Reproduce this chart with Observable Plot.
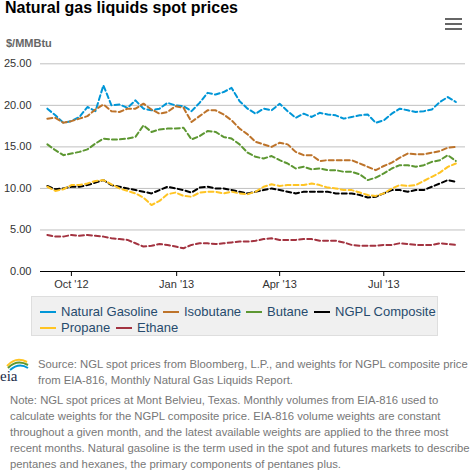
<!DOCTYPE html>
<html>
<head>
<meta charset="utf-8">
<script src="https://cdn.jsdelivr.net/npm/d3@7"></script>
<script src="https://cdn.jsdelivr.net/npm/@observablehq/plot@0.6"></script>
<style>
  html, body { margin: 0; padding: 0; background: #fff; }
  body { width: 472px; height: 471px; position: relative; overflow: hidden; font-family: "Liberation Sans", Arial, sans-serif; }
  #title { position: absolute; left: 5px; top: -1px; font-size: 16px; font-weight: bold; color: #000; white-space: nowrap; }
  #menu { position: absolute; left: 445px; top: 18px; width: 17px; }
  #menu div { height: 2px; background: #666; margin-bottom: 3px; }
  #unit { position: absolute; left: 6px; top: 37px; font-size: 11px; font-weight: bold; color: #666; }
  #chart { position: absolute; left: 0; top: 50px; }
  #legend { position: absolute; left: 31px; top: 296px; width: 405px; height: 38px; background: #f0f0f0; border: 1px solid #dedede; }
  .li { position: absolute; font-size: 13px; color: #274b6d; white-space: nowrap; line-height: 15px; }
  .li span.sw { display: inline-block; width: 16px; height: 2px; vertical-align: middle; margin-right: 5px; position: relative; top: -1px; }
  #source { position: absolute; left: 38px; top: 356px; font-size: 11.3px; color: #777; line-height: 16px; white-space: nowrap; }
  #note { position: absolute; left: 10px; top: 392px; font-size: 11.3px; color: #777; line-height: 16px; white-space: nowrap; }
  #logo { position: absolute; left: 0; top: 355px; }
</style>
</head>
<body>
<div id="title">Natural gas liquids spot prices</div>
<div id="menu"><div></div><div></div><div></div></div>
<div id="unit">$/MMBtu</div>
<div id="chart"></div>
<div id="legend"></div>
<svg id="logo" width="32" height="30" viewBox="0 0 32 30">
  <path d="M7 11 Q16 1 27 7" fill="none" stroke="#ffc423" stroke-width="2"/>
  <path d="M8 13 Q17 4 28 10" fill="none" stroke="#5d9732" stroke-width="2"/>
  <path d="M10 15 Q19 7 28 13" fill="none" stroke="#0096d7" stroke-width="2"/>
  <text x="0" y="26" font-family="Liberation Serif, serif" font-size="15" fill="#1a2a4a">eia</text>
</svg>
<div id="source">Source: NGL spot prices from Bloomberg, L.P., and weights for NGPL composite price<br>from EIA-816, Monthly Natural Gas Liquids Report.</div>
<div id="note">Note: NGL spot prices at Mont Belvieu, Texas. Monthly volumes from EIA-816 used to<br>calculate weights for the NGPL composite price. EIA-816 volume weights are constant<br>throughout a given month, and the latest available weights are applied to the three most<br>recent months. Natural gasoline is the term used in the spot and futures markets to describe<br>pentanes and hexanes, the primary components of pentanes plus.</div>
<script>
// Weekly readings (week starting Monday), from 2012-09-10
const firstWeek = "2012-09-10";
const seriesNames = ["Natural Gasoline", "Isobutane", "Butane", "NGPL Composite", "Propane", "Ethane"];
const seriesColors = ["#0096d7", "#bd732a", "#5d9732", "#000000", "#ffc423", "#a33340"];

const naturalGasoline = [19.6,18.8,17.9,18.1,18.6,19.8,19.3,22.4,20.0,20.1,19.7,20.6,19.6,19.4,19.6,20.3,20.0,19.9,19.3,20.3,21.5,21.3,21.6,22.1,20.5,19.6,19.0,19.6,19.4,20.2,19.3,18.5,19.0,18.6,19.1,18.9,18.8,18.4,18.6,18.8,18.9,17.9,18.2,19.0,19.6,19.4,19.2,19.3,19.5,20.4,21.0,20.4];
const isobutane = [18.4,18.5,17.9,18.1,18.4,18.7,19.5,20.1,19.3,19.2,19.6,19.6,20.2,19.5,19.0,19.2,19.9,19.7,18.0,18.7,19.4,19.4,18.9,18.2,17.2,16.5,15.6,15.3,15.0,15.5,15.3,14.4,14.0,14.0,13.3,13.4,13.4,13.4,13.4,13.0,12.6,12.2,12.7,13.1,13.7,14.2,14.1,14.1,14.3,14.5,14.9,15.0];
const butane = [15.3,14.6,14.0,14.2,14.4,14.7,15.4,16.0,15.9,15.9,16.0,16.2,17.6,16.8,17.1,17.2,17.2,17.3,15.9,16.3,16.9,16.8,16.2,16.0,15.3,14.3,13.8,13.6,13.9,13.4,13.0,12.4,12.6,12.3,12.4,12.2,12.2,12.0,12.0,11.7,11.0,11.3,11.8,12.4,12.8,12.8,12.6,12.8,13.2,13.4,14.0,13.3];
const ngplComposite = [10.3,9.9,10.0,10.2,10.2,10.4,10.7,11.0,10.4,10.2,10.0,9.8,9.6,9.4,9.8,10.2,10.0,9.8,9.5,10.1,10.2,10.0,10.0,9.8,9.6,9.4,9.6,9.8,10.0,9.8,9.6,9.4,9.6,9.6,9.6,9.6,9.4,9.4,9.4,9.2,8.9,9.0,9.4,9.8,9.8,9.6,9.8,9.8,10.2,10.6,11.0,10.8];
const propane = [10.2,9.7,9.9,10.4,10.4,10.6,10.9,11.0,10.5,10.0,9.7,9.4,8.9,8.0,8.5,9.3,9.5,9.1,9.0,9.5,9.6,9.6,9.4,9.6,9.4,9.3,9.6,10.2,10.5,10.3,10.4,10.4,10.4,10.6,10.4,10.1,10.0,9.8,9.8,9.5,9.2,9.1,9.4,10.0,10.4,10.3,10.4,10.9,11.4,11.9,12.6,13.0];
const ethane = [4.4,4.2,4.2,4.4,4.3,4.4,4.3,4.2,4.0,3.9,3.8,3.4,3.0,3.1,3.3,3.2,3.0,2.8,3.2,3.4,3.4,3.3,3.4,3.5,3.6,3.6,3.7,3.9,4.0,3.8,3.8,3.8,3.9,3.9,3.7,3.7,3.7,3.5,3.2,3.1,3.1,3.1,3.2,3.2,3.4,3.3,3.2,3.2,3.2,3.4,3.3,3.2];

const yTicks = [0, 5, 10, 15, 20, 25];
const xTickDates = ["2012-10-01", "2013-01-01", "2013-04-01", "2013-07-01"];
const xDomain = ["2012-09-04", "2013-09-10T10:00"];

const allSeries = [naturalGasoline, isobutane, butane, ngplComposite, propane, ethane];
const start = new Date(firstWeek + "T00:00Z");
const rows = [];
allSeries.forEach((vals, si) => {
  vals.forEach((v, i) => rows.push({series: seriesNames[si], date: d3.utcDay.offset(start, 7 * i), value: v}));
});

const fmt = d3.utcFormat("%b '%y");
const chart = Plot.plot({
  width: 472,
  height: 244,
  marginLeft: 40,
  marginRight: 7,
  marginTop: 13.3,
  marginBottom: 23,
  style: {fontFamily: "Liberation Sans, Arial, sans-serif", fontSize: "11px", color: "#333", background: "transparent"},
  x: {type: "utc", domain: xDomain.map(s => new Date(s.includes("T") ? s + "Z" : s + "T00:00Z"))},
  y: {domain: [0, 25]},
  color: {domain: seriesNames, range: seriesColors},
  marks: [
    Plot.ruleY(yTicks.filter(d => d > 0), {stroke: "#c0c0c0", strokeWidth: 1}),
    Plot.axisY({ticks: yTicks, tickFormat: d => d.toFixed(2), tickSize: 0, tickPadding: 9, label: null, fill: "#333"}),
    Plot.axisX({ticks: xTickDates.map(s => new Date(s + "T00:00Z")), tickFormat: fmt, tickSize: 5, tickPadding: 4, label: null, stroke: "#000", fill: "#333"}),
    Plot.line(rows, {x: "date", y: "value", z: "series", stroke: "series", strokeWidth: 2, strokeDasharray: "5,3", strokeLinejoin: "round", curve: "linear"}),
    Plot.ruleY([0], {stroke: "#000", strokeWidth: 1})
  ]
});
document.getElementById("chart").appendChild(chart);

// legend
const legend = document.getElementById("legend");
const pos = [[8, 7], [131, 7], [214, 7], [282, 7], [8, 23], [84, 23]];
seriesNames.forEach((name, i) => {
  const el = document.createElement("div");
  el.className = "li";
  el.style.left = pos[i][0] + "px";
  el.style.top = pos[i][1] + "px";
  el.innerHTML = `<span class="sw" style="background:${seriesColors[i]}"></span>${name}`;
  legend.appendChild(el);
});
</script>
</body>
</html>
